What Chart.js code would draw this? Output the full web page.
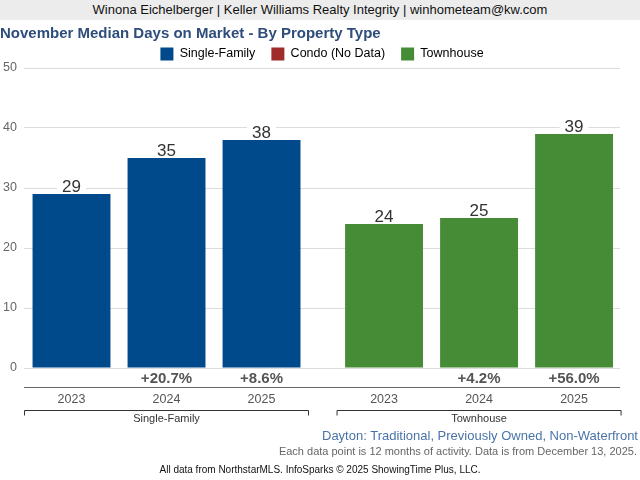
<!DOCTYPE html>
<html>
<head>
<meta charset="utf-8">
<script src="https://cdn.jsdelivr.net/npm/chart.js@4.4.0/dist/chart.umd.min.js"></script>
<style>
  body { margin: 0; background: #fff; font-family: 'Liberation Sans', Arial, sans-serif; }
  #wrap { position: relative; width: 640px; height: 480px; overflow: hidden; }
  #banner { position: absolute; left: 0; top: 0; width: 640px; height: 20px; background: #ececec;
            color: #111; font-size: 13px; line-height: 20px; text-align: center; }
  canvas { position: absolute; left: 0; top: 0; }
  .note { position: absolute; white-space: nowrap; }
  #area { right: 2px; top: 428px; font-size: 13px; color: #4a74a8; }
  #span { right: 3px; top: 445px; font-size: 11px; color: #666; }
  #src { left: 0; width: 640px; text-align: center; top: 464px; font-size: 10px; color: #111; }
</style>
</head>
<body>
<div id="wrap">
  <div id="banner">Winona Eichelberger | Keller Williams Realty Integrity | winhometeam@kw.com</div>
  <canvas id="chart" width="640" height="480"></canvas>
  <div class="note" id="area">Dayton: Traditional, Previously Owned, Non-Waterfront</div>
  <div class="note" id="span">Each data point is 12 months of activity. Data is from December 13, 2025.</div>
  <div class="note" id="src">All data from NorthstarMLS. InfoSparks © 2025 ShowingTime Plus, LLC.</div>
</div>
<script>
// chart values
const groups = ['Single-Family', 'Townhouse'];
const years = ['2023', '2024', '2025'];
const singleFamily = [29, 35, 38];
const townhouse = [24, 25, 39];
const sfChange = ['', '+20.7%', '+8.6%'];
const thChange = ['', '+4.2%', '+56.0%'];
const legendNames = ['Single-Family', 'Condo (No Data)', 'Townhouse'];
const typeColors = ['#00498b', '#a02b2b', '#468c37'];

const family = "'Liberation Sans', Arial, sans-serif";
Chart.defaults.font.family = family;

const CAT_PCT = 0.912;

// one dataset per year, bars grouped by property type
const datasets = years.map((yr, i) => ({
  label: yr,
  data: [{ x: 0, y: singleFamily[i] }, { x: 1, y: townhouse[i] }],
  backgroundColor: [typeColors[0], typeColors[2]],
  categoryPercentage: CAT_PCT,
  barPercentage: 0.82
}));

// value labels, change labels, years and group brackets
const labelPlugin = {
  id: 'labels',
  afterDatasetsDraw(chart) {
    const ctx = chart.ctx;
    const area = chart.chartArea;
    const xs = chart.scales.x;
    const changes = [sfChange, thChange];
    ctx.save();
    ctx.textAlign = 'center';

    chart.data.datasets.forEach((ds, i) => {
      chart.getDatasetMeta(i).data.forEach((bar, j) => {
        const txt = String(ds.data[j].y);
        ctx.font = '17px ' + family;
        const w = ctx.measureText(txt).width;
        ctx.fillStyle = '#fff';
        ctx.fillRect(bar.x - w / 2 - 5, bar.y - 17, w + 10, 14);
        ctx.fillStyle = '#333';
        ctx.textBaseline = 'alphabetic';
        ctx.fillText(txt, bar.x, bar.y - 2);

        ctx.textBaseline = 'middle';
        ctx.font = 'bold 15px ' + family;
        ctx.fillStyle = '#555';
        ctx.fillText(changes[j][i], bar.x, area.bottom + 11);

        ctx.font = '12.5px ' + family;
        ctx.fillStyle = '#555';
        ctx.fillText(years[i], bar.x, area.bottom + 32);
      });
    });

    // divider under change row
    ctx.strokeStyle = '#666';
    ctx.lineWidth = 1.2;
    ctx.beginPath();
    ctx.moveTo(area.left, area.bottom + 19.5);
    ctx.lineTo(area.right, area.bottom + 19.5);
    ctx.stroke();

    // group brackets
    const half = (xs.getPixelForValue(1) - xs.getPixelForValue(0)) * CAT_PCT / 2;
    ctx.strokeStyle = '#333';
    ctx.lineWidth = 1;
    groups.forEach((g, j) => {
      const c = xs.getPixelForValue(j);
      const y = area.bottom + 42.5;
      ctx.beginPath();
      ctx.moveTo(c - half + 0.5, y + 5);
      ctx.lineTo(c - half + 0.5, y);
      ctx.lineTo(c + half - 0.5, y);
      ctx.lineTo(c + half - 0.5, y + 5);
      ctx.stroke();
      ctx.font = '11px ' + family;
      ctx.fillStyle = '#333';
      ctx.fillText(g, c, area.bottom + 50.5);
    });
    ctx.restore();
  }
};

new Chart(document.getElementById('chart'), {
  type: 'bar',
  data: { datasets: datasets },
  options: {
    responsive: false,
    animation: false,
    layout: { padding: { top: 20, left: 0, right: 20, bottom: 104 } },
    scales: {
      x: {
        type: 'linear',
        offset: false,
        min: -0.456,
        max: 1.451,
        afterBuildTicks: s => { s.ticks = [{ value: 0 }, { value: 1 }]; },
        ticks: { display: false },
        grid: { display: false },
        border: { display: false }
      },
      y: {
        min: 0,
        max: 50,
        ticks: { stepSize: 10, padding: 7, color: '#666', font: { size: 12.5 } },
        grid: { color: '#dcdcdc', drawTicks: false },
        border: { display: false },
        afterFit: s => { s.width = 24; }
      }
    },
    plugins: {
      title: {
        display: true,
        text: 'November Median Days on Market - By Property Type',
        align: 'start',
        color: '#2e4d7b',
        font: { size: 15, weight: 'bold' },
        padding: { top: 5, bottom: -11.5 }
      },
      legend: {
        display: true,
        fullSize: false,
        maxHeight: 36.5,
        labels: {
          boxWidth: 13,
          boxHeight: 13,
          useBorderRadius: true,
          borderRadius: 2,
          padding: 16,
          color: '#34557f',
          font: { size: 12.5, lineHeight: 1 },
          generateLabels: () => legendNames.map((n, k) => ({
            text: n,
            fillStyle: typeColors[k],
            strokeStyle: typeColors[k],
            lineWidth: 0,
            hidden: false,
            datasetIndex: k
          }))
        },
        onClick: () => {}
      },
      tooltip: { enabled: false }
    }
  },
  plugins: [labelPlugin]
});
</script>
</body>
</html>
